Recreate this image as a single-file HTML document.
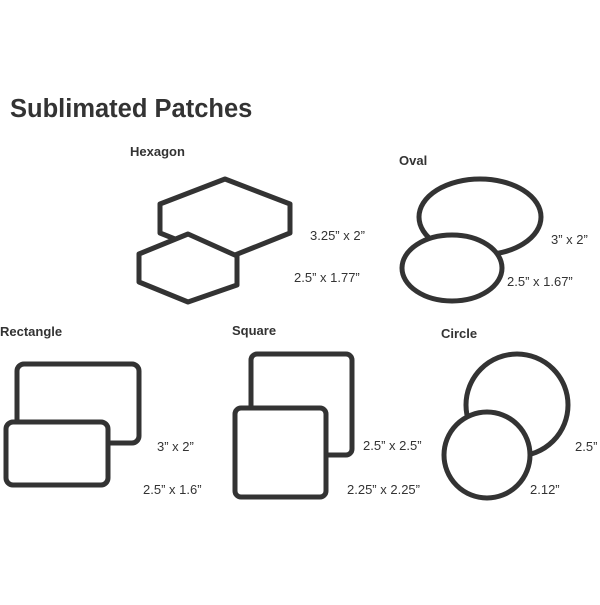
<!DOCTYPE html>
<html><head><style>
body{margin:0;background:#fff;}
svg text{font-family:"Liberation Sans",Arial,sans-serif;fill:#333;}
</style></head><body>
<svg width="600" height="600" viewBox="0 0 600 600" xmlns="http://www.w3.org/2000/svg">
<rect width="600" height="600" fill="#fff"/>
<text x="10" y="117" font-size="25.5" font-weight="bold" fill="#333">Sublimated Patches</text>
<text x="130" y="156" font-size="13" font-weight="bold">Hexagon</text>
<text x="399" y="165" font-size="13" font-weight="bold">Oval</text>
<text x="0" y="336" font-size="13" font-weight="bold">Rectangle</text>
<text x="232" y="335" font-size="13" font-weight="bold">Square</text>
<text x="441" y="338" font-size="13" font-weight="bold">Circle</text>
<g fill="#fff" stroke="#333" stroke-width="5" stroke-linejoin="round">
<polygon points="225,179 290,204 290,233 225,259 160,233 160,204"/>
<polygon points="188,234 237,256 237,285 188,302 139,282 139,254"/>
<ellipse cx="480" cy="217" rx="61" ry="38"/>
<ellipse cx="452" cy="268" rx="50" ry="33"/>
<rect x="17" y="364" width="122" height="79" rx="7"/>
<rect x="6" y="422" width="102" height="63" rx="7"/>
<rect x="251" y="354" width="101" height="101" rx="6"/>
<rect x="235" y="408" width="91" height="89" rx="6"/>
<circle cx="517" cy="405" r="51"/>
<circle cx="487" cy="455" r="43"/>
</g>
<g font-size="13">
<text x="310" y="240">3.25” x 2”</text>
<text x="294" y="282">2.5” x 1.77”</text>
<text x="551" y="244">3” x 2”</text>
<text x="507" y="286">2.5” x 1.67”</text>
<text x="157" y="451">3” x 2”</text>
<text x="143" y="494">2.5” x 1.6”</text>
<text x="363" y="450">2.5” x 2.5”</text>
<text x="347" y="494">2.25” x 2.25”</text>
<text x="575" y="451">2.5”</text>
<text x="530" y="494">2.12”</text>
</g>
</svg>
</body></html>
